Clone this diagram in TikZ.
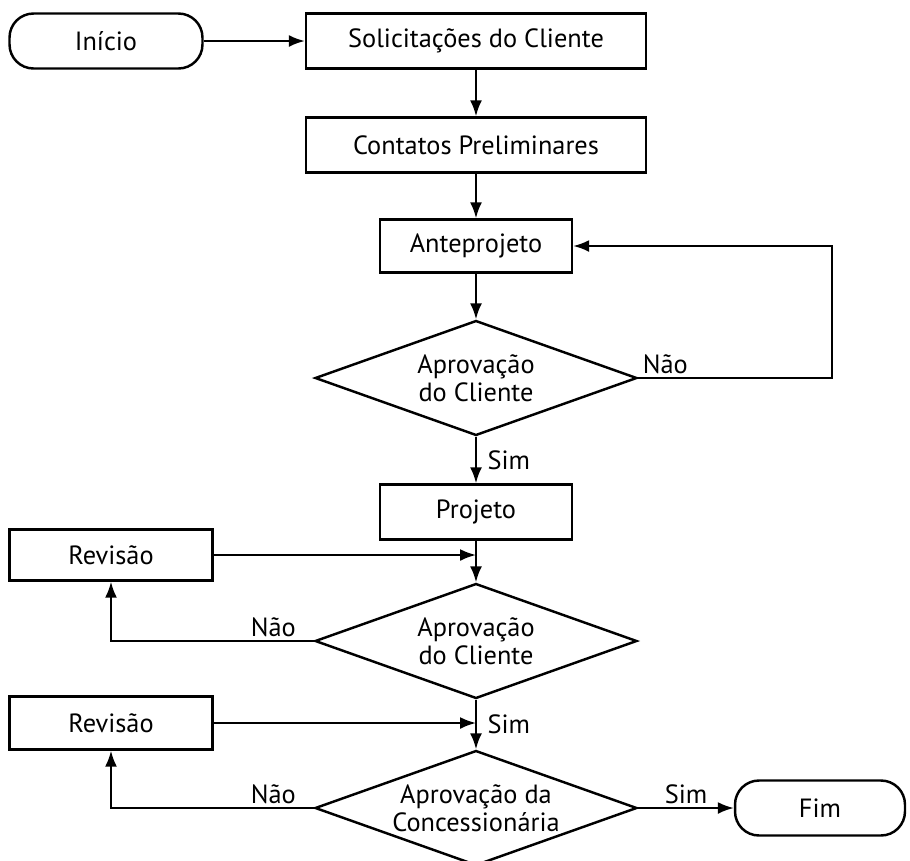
\documentclass[tikz,border=0pt]{standalone}
\usepackage{fontspec}
\setmainfont{PT Sans}
\usetikzlibrary{arrows.meta,shapes.geometric}

\begin{document}
\begin{tikzpicture}[x=0.02cm, y=-0.02cm, >={Latex[length=3.2mm,width=2.4mm]}, line width=1.2pt]
    \tikzset{bloco/.style = {shape=rectangle, draw, line width=1.4pt, minimum height=11mm, font=\fontsize{15}{17}\selectfont}}
    \tikzset{terminal/.style = {bloco, rounded corners=4.8mm}}
    \tikzset{decisao/.style = {shape=diamond, draw, line width=1.4pt, aspect=2.8, inner sep=0pt, minimum width=64.4mm, minimum height=23mm, align=center, font=\fontsize{15}{16}\selectfont}}
    \tikzset{rotulo/.style = {font=\fontsize{15}{17}\selectfont, inner sep=2pt}}
    \useasboundingbox (0,0) rectangle (910,860);

    % vertices
    \node[terminal, minimum width=38.6mm] (ini) at (106,41) {Início};
    \node[bloco, minimum width=68mm] (sol) at (476,41) {Solicitações do Cliente};
    \node[bloco, minimum width=68mm] (cont) at (476,145) {Contatos Preliminares};
    \node[bloco, minimum width=38.4mm, minimum height=10.6mm] (ante) at (476,246) {Anteprojeto};
    \node[decisao] (apr1) at (476,378) {Aprovação\\do Cliente};
    \node[bloco, minimum width=38.4mm] (proj) at (476,512) {Projeto};
    \node[bloco, minimum width=40.6mm, minimum height=10.2mm] (rev1) at (111,555) {Revisão};
    \node[decisao] (apr2) at (476,641) {Aprovação\\do Cliente};
    \node[bloco, minimum width=40.6mm, minimum height=10.6mm] (rev2) at (111,723) {Revisão};
    \node[decisao] (apr3) at (476,808) {Aprovação da\\Concessionária};
    \node[terminal, minimum width=34mm] (fim) at (820,808) {Fim};
    \coordinate (volta) at (832,378);

    % edges
    \draw [->] (ini) -- (sol);
    \draw [->] (sol) -- (cont);
    \draw [->] (cont) -- (ante);
    \draw [->] (ante) -- (apr1);
    \draw [->] (apr1.east) -- node[rotulo, pos=0, above right]{Não} (volta) |- (ante);
    \draw [->] (apr1) -- node[rotulo, right, xshift=4pt]{Sim} (proj);
    \draw [->] (proj) -- (apr2);
    \draw [->] (rev1.east) -- (rev1.east -| proj.south);
    \draw [->] (apr2) -| node[rotulo, pos=0.1, above]{Não} (rev1);
    \draw [->] (apr2) -- node[rotulo, right, xshift=4pt]{Sim} (apr3);
    \draw [->] (rev2.east) -- (rev2.east -| apr2.south);
    \draw [->] (apr3) -| node[rotulo, pos=0.1, above]{Não} (rev2);
    \draw [->] (apr3) -- node[rotulo, above]{Sim} (fim);
\end{tikzpicture}
\end{document}
